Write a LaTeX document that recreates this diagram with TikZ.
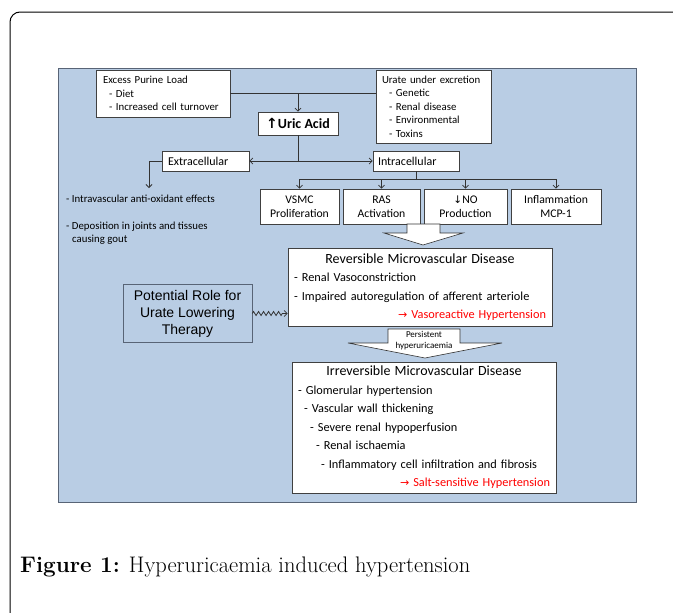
\documentclass[tikz,border=0pt]{standalone}
\usepackage{fontspec}
\newfontfamily\calfont{Carlito}
\newfontfamily\arialfont{Liberation Sans}
\newfontfamily\symfont{DejaVu Sans}
\usetikzlibrary{decorations.pathmorphing,arrows.meta}
\definecolor{panelblue}{RGB}{185,205,228}
\definecolor{panelline}{RGB}{88,100,118}
\definecolor{alertred}{RGB}{255,0,0}
\newcommand{\boxtitle}[1]{\hspace*{\fill}{\fontsize{14}{18.5}\selectfont #1}\hspace*{\fill}\null}
\begin{document}
\begin{tikzpicture}[x=1pt,y=-1pt,
  box/.style={draw=black!75, fill=white, line width=0.6pt, inner sep=0pt},
  small/.style={font=\calfont\fontsize{10.8}{13.5}\selectfont},
  mid/.style={font=\calfont\fontsize{11.7}{14.5}\selectfont},
  body/.style={font=\calfont\fontsize{12.3}{18.5}\selectfont},
  link/.style={draw=black!80, line width=0.8pt},
  tip/.style={link, -{Straight Barb[length=3pt,width=6pt]}},
  blockarrow/.style={draw=black!80, fill=white, line width=0.6pt}]

\useasboundingbox (0,0) rectangle (673,613);
\fill[white] (0,0) rectangle (673,613);
\draw[line width=1pt, rounded corners=10pt] (10,614) -- (10,12) -- (674,12);
\filldraw[fill=panelblue, draw=panelline, line width=0.5pt] (58,68) rectangle (636,502);

\node[box, small, minimum width=134pt, minimum height=47pt, text width=120pt, align=left] (purine) at (163,93.5)
  {Excess Purine Load\\\hspace*{6pt}- Diet\\\hspace*{6pt}- Increased cell turnover};
\node[box, small, minimum width=115pt, minimum height=73pt, text width=103pt, align=left] (urate) at (433.5,106.5)
  {Urate under excretion\\\hspace*{7pt}- Genetic\\\hspace*{7pt}- Renal disease\\\hspace*{7pt}- Environmental\\\hspace*{7pt}- Toxins};
\node[box, minimum width=80pt, minimum height=23pt, font=\calfont\fontsize{14}{16}\selectfont\bfseries] (uric) at (298,123.5)
  {{\symfont ↑}Uric Acid};
\node[box, font=\calfont\fontsize{12}{14}\selectfont, minimum width=87pt, minimum height=20pt, text width=75pt, align=left] (extra) at (205.5,161) {Extracellular};
\node[box, font=\calfont\fontsize{12}{14}\selectfont, minimum width=86pt, minimum height=20pt, text width=76pt, align=left] (intra) at (416,161) {Intracellular};

\node[box, mid, minimum width=79pt, minimum height=35pt, align=center] (vsmc) at (299.5,206.5) {VSMC\\Proliferation};
\node[box, mid, minimum width=77pt, minimum height=35pt, align=center] (ras) at (381.5,206.5) {RAS\\Activation};
\node[box, mid, minimum width=83pt, minimum height=35pt, align=center] (no) at (465.5,206.5) {{\symfont\fontsize{10.5}{14.5}\selectfont ↓}NO\\Production};
\node[box, mid, minimum width=90pt, minimum height=35pt, align=center] (infl) at (556,206.5) {Inflammation\\MCP-1};

\node[small, inner sep=0pt, anchor=west, align=left] (effects) at (66,219.5)
  {- Intravascular anti-oxidant effects\\[13.5pt]- Deposition in joints and tissues\\\hspace*{6pt}causing gout};
\coordinate (effectstop) at (149,188);

\node[box, body, minimum width=264pt, minimum height=78pt, text width=252pt, align=left] (rev) at (420,287)
  {\boxtitle{Reversible Microvascular Disease}\\
   - Renal Vasoconstriction\\
   - Impaired autoregulation of afferent arteriole\\
   \hspace*{\fill}\textcolor{alertred}{{\symfont\fontsize{11}{18.5}\selectfont →} Vasoreactive Hypertension}};
\node[box, fill=panelblue, draw=panelline, minimum width=129pt, minimum height=58pt, align=center,
  font=\arialfont\fontsize{14}{17}\selectfont] (pot) at (187.5,313.5)
  {Potential Role for\\Urate Lowering\\Therapy};
\node[box, body, minimum width=264pt, minimum height=131pt, text width=252pt, align=left] (irrev) at (424,427.5)
  {\boxtitle{Irreversible Microvascular Disease}\\
   - Glomerular hypertension\\
   \hspace*{6pt}- Vascular wall thickening\\
   \hspace*{12pt}- Severe renal hypoperfusion\\
   \hspace*{18pt}- Renal ischaemia\\
   \hspace*{23pt}- Inflammatory cell infiltration and fibrosis\\
   \hspace*{\fill}\textcolor{alertred}{{\symfont\fontsize{11}{18.5}\selectfont →} Salt-sensitive Hypertension}};

\draw[link] (purine.east) -- (purine.east -| urate.west);
\draw[tip] (purine.east -| uric.north) -- (uric.north);
\draw[link] (uric.south) -- (uric.south |- extra.east) coordinate (split);
\draw[tip] (split) -- (extra.east);
\draw[tip] (split) -- (intra.west);
\draw[tip] (extra.west) -| (effectstop);
\draw[link] (intra.south) -- ++(0,8) coordinate (bus);
\draw[link] (bus -| vsmc.north) -- (bus -| infl.north);
\foreach \b in {vsmc,ras,no,infl}
  \draw[tip] (bus -| \b.north) -- (\b.north);

\draw[blockarrow] (407,224) -- (407,233) -- (384,233) -- (423,245) -- (463,233) -- (440,233) -- (440,224) -- cycle;
\draw[blockarrow] (388,329) -- (388,343) -- (348,343) -- (425,358) -- (502,343) -- (460,343) -- (460,329) -- cycle;
\node[inner sep=0pt, align=center, font=\calfont\fontsize{9}{11}\selectfont] (persist) at (424,340.5) {Persistent\\hyperuricaemia};

\draw[link, -{Straight Barb[length=3pt,width=6pt]}, decorate,
  decoration={zigzag, amplitude=2pt, segment length=5pt, post length=4pt}] (pot.east) -- (pot.east -| rev.west);

\node[anchor=west, inner sep=0pt, font=\fontsize{22.5}{25}\selectfont] (caption) at (20,567)
  {\textbf{Figure 1:} Hyperuricaemia induced hypertension};
\end{tikzpicture}
\end{document}
